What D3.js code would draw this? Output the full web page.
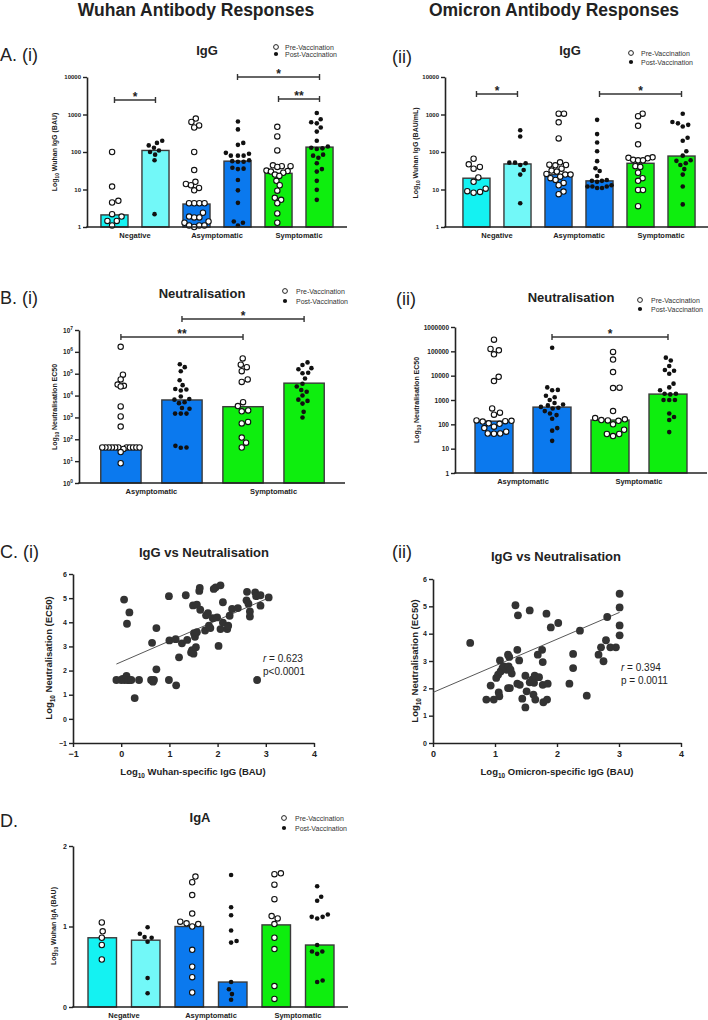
<!DOCTYPE html>
<html><head><meta charset="utf-8">
<script src="https://cdn.jsdelivr.net/npm/d3@7"></script>
<style>body{margin:0;background:#fff}svg{display:block}text{font-family:"Liberation Sans",Arial,sans-serif}</style>
</head><body><svg id="c" width="708" height="1020"></svg>
<script>
// ---------------- DATA ----------------
const groups = ["Negative", "Asymptomatic", "Symptomatic"];
const groupsB = ["Asymptomatic", "Symptomatic"];
const legendLabels = ["Pre-Vaccination", "Post-Vaccination"];
const igGTicks = [1, 10, 100, 1000, 10000];
const neutTicksW = [1, 10, 100, 1000, 10000, 100000, 1000000, 10000000];
const neutTicksO = [1, 10, 100, 1000, 10000, 100000, 1000000];
const igATicks = [0, 1, 2];
const scatterXTicksW = [-1, 0, 1, 2, 3, 4];
const scatterYTicksW = [-1, 0, 1, 2, 3, 4, 5, 6];
const scatterXTicksO = [0, 1, 2, 3, 4];
const scatterYTicksO = [0, 1, 2, 3, 4, 5, 6];

// A(i) Wuhan IgG  (order: neg pre, neg post, asym pre, asym post, sym pre, sym post)
const wuhanIgGBars = [2.1, 110, 4.1, 57, 27, 135];
const wuhanIgGNegPre = [100, 12, 5, 4.5, 2.2, 1.9, 1.45, 1.45, 1.1];
const wuhanIgGNegPost = [200, 175, 150, 130, 110, 100, 85, 60, 2.2];
const wuhanIgGAsymPre = [780, 630, 510, 450, 100, 33, 16, 14, 13, 11, 9.5, 4.3, 4.3, 4.3, 4.3, 2.4, 1.9, 1.8, 1.8, 1.4, 1.3, 1.1, 1.1, 1.1, 1.0];
const wuhanIgGAsymPost = [650, 400, 175, 155, 95, 90, 80, 80, 80, 60, 57, 55, 55, 38, 36, 35, 18, 9.5, 4.4, 1.4, 1.3, 1.1];
const wuhanIgGSymPre = [470, 260, 110, 44, 42, 42, 40, 32, 31, 30, 28, 25, 23, 17, 13, 9.3, 6, 5.3, 4.3, 2.3, 1.3];
const wuhanIgGSymPost = [1100, 750, 620, 580, 450, 350, 200, 140, 130, 125, 120, 85, 80, 70, 50, 35, 30, 17, 9.8, 5.3];

// A(ii) Omicron IgG
const omiIgGBars = [20, 48, 25, 17, 50, 78];
const omiIgGNegPre = [66, 47, 40, 36, 21, 16, 10.5, 9, 8.6, 8.2];
const omiIgGNegPost = [380, 260, 52, 52, 50, 45, 33, 25, 4.3];
const omiIgGAsymPre = [1050, 1050, 620, 230, 53, 46, 45, 44, 36, 32, 30, 26, 25, 25, 22, 20, 18, 15, 13, 8.8, 7.5];
const omiIgGAsymPost = [720, 300, 180, 105, 57, 37, 31, 23, 18, 17, 17, 16, 13, 12, 12, 12, 11, 11];
const omiIgGSymPre = [1050, 900, 500, 160, 72, 70, 68, 62, 60, 60, 42, 40, 28, 20, 17, 9.7, 9.7, 3.6];
const omiIgGSymPost = [1050, 630, 580, 530, 480, 240, 200, 105, 80, 60, 58, 50, 45, 35, 25, 12, 4];

// B(i) Wuhan neutralisation (asym pre, asym post, sym pre, sym post)
const wuhanNeutBars = [40, 6300, 3100, 37000];
const wuhanNeutAsymPre = [1.7e6, 9e4, 5.5e4, 3.2e4, 2.8e4, 2.6e4, 3200, 1100, 380, 42, 42, 42, 42, 42, 42, 42, 42, 42, 42, 42, 36, 26, 8];
const wuhanNeutAsymPost = [2.7e5, 2e5, 1.3e5, 5e4, 3e4, 2e4, 1.9e4, 1.7e4, 9e3, 7e3, 6.5e3, 5e3, 4.5e3, 2.7e3, 2.5e3, 1.5e3, 1.5e3, 1.5e3, 50, 42, 41];
const wuhanNeutSymPre = [5e5, 2.6e5, 2e5, 1.3e5, 5.5e4, 4.2e4, 5e3, 3.3e3, 2.1e3, 1.9e3, 620, 530, 120, 70, 42];
const wuhanNeutSymPost = [3.3e5, 2.5e5, 1.8e5, 1.6e5, 1.1e5, 1.05e5, 6e4, 3.5e4, 2.6e4, 1.8e4, 1.5e4, 1e4, 6.5e3, 5.7e3, 4.3e3, 1.8e3, 1e3];

// B(ii) Omicron neutralisation
const omiNeutBars = [135, 510, 150, 1750];
const omiNeutAsymPre = [3e5, 1.25e5, 1.1e5, 7.5e4, 9e3, 6e3, 450, 300, 250, 145, 140, 135, 130, 110, 105, 80, 70, 50, 42, 42, 41];
const omiNeutAsymPost = [1.4e5, 3.3e3, 2.6e3, 2.5e3, 1.5e3, 1.3e3, 1e3, 750, 650, 600, 520, 480, 450, 350, 280, 240, 170, 70, 55, 21];
const omiNeutSymPre = [9.5e4, 4.6e4, 1.4e4, 3.2e3, 3.1e3, 350, 180, 160, 150, 145, 140, 100, 60, 40, 40, 33];
const omiNeutSymPost = [5.5e4, 4.2e4, 2.5e4, 1.7e4, 1.6e4, 1.2e4, 4.7e3, 3.3e3, 2.5e3, 1.8e3, 1.8e3, 1.7e3, 1e3, 1e3, 1e3, 280, 200, 150, 48];

// C(i) Wuhan IgG vs neutralisation (log10 values)
const corrWuhanX = [-0.10, 0, 0.06, 0.03, 0.07, 0.10, 0.11, 0.12, 0.14, 0.16, 0.17, 0.21, 0.28, 0.37, 0.62, 0.64, 0.66, 0.68, 0.73, 0.73, 0.99, 0.99, 1.0, 1.13, 1.14, 1.20, 1.26, 1.34, 1.37, 1.45, 1.47, 1.49, 1.50, 1.51, 1.53, 1.55, 1.57, 1.57, 1.62, 1.63, 1.64, 1.74, 1.76, 1.80, 1.82, 1.85, 1.90, 1.92, 1.96, 1.99, 2.02, 2.06, 2.06, 2.11, 2.11, 2.20, 2.22, 2.25, 2.30, 2.42, 2.60, 2.61, 2.64, 2.67, 2.67, 2.78, 2.80, 2.82, 2.89, 2.89, 3.06];
const corrWuhanY = [1.61, 1.61, 4.94, 1.65, 1.61, 1.70, 1.78, 3.94, 1.61, 1.61, 4.41, 1.61, 0.86, 1.61, 1.61, 3.15, 1.54, 1.61, 3.76, 2.05, 5.08, 1.61, 3.25, 3.30, 1.39, 2.55, 3.13, 5.12, 3.27, 2.75, 2.85, 4.70, 2.70, 3.55, 3.40, 2.97, 4.73, 3.59, 5.30, 5.42, 4.52, 3.66, 4.29, 4.38, 3.86, 3.76, 4.17, 5.38, 5.45, 4.20, 3.02, 5.53, 3.72, 4.83, 3.99, 3.72, 3.86, 4.27, 4.55, 4.59, 4.91, 5.26, 4.77, 4.45, 4.24, 5.24, 5.08, 1.61, 5.12, 4.69, 5.03];
const corrWuhanFit = [-0.10, 2.27, 3.05, 5.00]; // x0, y0, x1, y1 of regression line
const corrWuhanStats = ["0.623", "p<0.0001"];

// C(ii) Omicron IgG vs neutralisation
const corrOmiX = [0.60, 0.86, 0.93, 0.98, 1.02, 1.05, 1.06, 1.07, 1.08, 1.09, 1.12, 1.14, 1.19, 1.21, 1.21, 1.22, 1.23, 1.24, 1.25, 1.27, 1.33, 1.36, 1.36, 1.37, 1.39, 1.40, 1.44, 1.49, 1.49, 1.51, 1.56, 1.56, 1.60, 1.62, 1.63, 1.64, 1.65, 1.69, 1.71, 1.76, 1.77, 1.77, 1.78, 1.83, 1.84, 1.85, 1.90, 2.02, 2.20, 2.26, 2.26, 2.37, 2.48, 2.67, 2.71, 2.75, 2.79, 2.81, 2.86, 2.95, 3.01, 3.01, 3.01, 3.01];
const corrOmiY = [3.66, 1.59, 2.10, 1.59, 2.38, 2.50, 1.85, 1.71, 3.02, 2.62, 2.74, 2.80, 2.68, 3.23, 2.01, 2.80, 3.15, 2.01, 2.68, 2.54, 5.04, 3.41, 2.17, 4.67, 3.02, 2.13, 1.62, 2.46, 1.30, 1.89, 4.85, 2.22, 2.32, 1.77, 2.20, 2.46, 1.59, 3.23, 2.41, 3.41, 2.96, 2.13, 1.49, 4.73, 1.59, 2.17, 4.23, 4.39, 2.17, 3.26, 2.74, 4.11, 1.73, 3.23, 3.50, 2.99, 3.76, 4.61, 3.50, 3.50, 5.46, 4.96, 4.30, 3.94];
const corrOmiFit = [0, 1.85, 3.01, 4.78];
const corrOmiStats = ["0.394", "p = 0.0011"];

// D Wuhan IgA (log10 values)
const wuhanIgABars = [0.86, 0.83, 1.0, 0.31, 1.02, 0.77];
const wuhanIgANegPre = [1.05, 0.94, 0.86, 0.77, 0.59];
const wuhanIgANegPost = [0.99, 0.91, 0.87, 0.86, 0.81, 0.36, 0.17];
const wuhanIgAAsymPre = [1.62, 1.55, 1.39, 1.16, 1.06, 1.04, 1.03, 1.0, 0.71, 0.50, 0.37, 0.18];
const wuhanIgAAsymPost = [1.64, 1.24, 1.14, 0.95, 0.82, 0.80, 0.31, 0.22, 0.16, 0.09];
const wuhanIgASymPre = [1.66, 1.65, 1.52, 1.34, 1.13, 1.10, 1.03, 0.86, 0.72, 0.26, 0.10];
const wuhanIgASymPost = [1.50, 1.37, 1.32, 1.15, 1.12, 1.12, 1.10, 0.77, 0.69, 0.69, 0.66, 0.33, 0.31];

// significance comparisons: [bar index a, bar index b, label]
const sigA1 = [[0, 1, "*"], [3, 5, "*"], [4, 5, "**"]];
const sigA2 = [[0, 1, "*"], [3, 5, "*"]];
const sigB1 = [[0, 2, "**"], [1, 3, "*"]];
const sigB2 = [[1, 3, "*"]];

// ---------------- STYLE ----------------
const C_NEG = "#14F2F2", C_NEG2 = "#72F8F8", C_ASYM = "#0B79EE", C_SYM = "#0EEE0E";
const INK = "#222";
const FONT = '"Liberation Sans", Arial, sans-serif';
const svg = d3.select("#c");

function txt(x, y, s, o = {}) {
  const t = svg.append("text").attr("x", x).attr("y", y).text(s)
    .attr("font-size", o.size || 10).attr("fill", o.fill || INK)
    .attr("text-anchor", o.anchor || "start");
  if (o.bold) t.attr("font-weight", "bold");
  return t;
}

function ylab(x, y, pre, sub, post, size) {
  const t = svg.append("text").attr("transform", `translate(${x},${y}) rotate(-90)`)
    .attr("text-anchor", "middle").attr("font-size", size).attr("font-weight", "bold").attr("fill", INK);
  t.append("tspan").text(pre);
  t.append("tspan").attr("font-size", size * 0.68).attr("dy", size * 0.3).text(sub);
  t.append("tspan").attr("dy", -size * 0.3).text(post);
}

function xlab(x, y, pre, sub, post, size) {
  const t = svg.append("text").attr("x", x).attr("y", y)
    .attr("text-anchor", "middle").attr("font-size", size).attr("font-weight", "bold").attr("fill", INK);
  t.append("tspan").text(pre);
  t.append("tspan").attr("font-size", size * 0.68).attr("dy", size * 0.3).text(sub);
  t.append("tspan").attr("dy", -size * 0.3).text(post);
}

function legend(x, y1, y2, tx) {
  svg.append("circle").attr("cx", x).attr("cy", y1).attr("r", 2.4).attr("fill", "#fff").attr("stroke", INK).attr("stroke-width", 1);
  svg.append("circle").attr("cx", x).attr("cy", y2).attr("r", 2.1).attr("fill", "#111");
  txt(tx, y1 + 2.5, legendLabels[0], { size: 7, fill: "#333" });
  txt(tx, y2 + 2.5, legendLabels[1], { size: 7, fill: "#333" });
}

function swarm(ys, r, halfW) {
  const d = 2 * r + 0.5;
  const idx = ys.map((_, i) => i).sort((a, b) => ys[b] - ys[a]);
  const placed = [], xs = new Array(ys.length);
  for (const i of idx) {
    const y = ys[i];
    const near = placed.filter(p => Math.abs(p.y - y) < d);
    let best = 0;
    if (near.length) {
      const cands = [0];
      near.forEach(p => { const dx = Math.sqrt(Math.max(0, d * d - (p.y - y) ** 2)); cands.push(p.x + dx, p.x - dx); });
      cands.sort((a, b) => Math.abs(a) - Math.abs(b) || b - a);
      best = cands.find(c => near.every(p => (p.x - c) ** 2 + (p.y - y) ** 2 >= d * d - 0.01));
    }
    xs[i] = best; placed.push({ x: best, y });
  }
  const ext = d3.extent(xs), mid = (ext[0] + ext[1]) / 2;
  const m = d3.max(xs, v => Math.abs(v - mid)) || 1;
  const k = Math.min(1, halfW / m);
  return xs.map(v => (v - mid) * k);
}

function barPanel(cfg) {
  const y = (cfg.log ? d3.scaleLog() : d3.scaleLinear()).domain(cfg.domain).range([cfg.yBot, cfg.yTop]);
  const x = d3.scaleBand().domain(d3.range(cfg.bars.length)).range(cfg.band).padding(cfg.pad);
  const bw = x.bandwidth();
  svg.append("g").selectAll("rect").data(cfg.bars).join("rect")
    .attr("x", (d, i) => x(i)).attr("width", bw)
    .attr("y", d => y(d)).attr("height", d => cfg.yBot - y(d))
    .attr("fill", (d, i) => cfg.colors[i]).attr("stroke", "#3a3a3a").attr("stroke-width", 1.4);
  cfg.points.forEach((vals, i) => {
    const pre = i % 2 === 0;
    const r = pre ? 2.7 : 2.3;
    const ys = vals.map(v => y(v));
    const xs = swarm(ys, r + 0.3, bw / 2 - 1.5);
    const cx = x(i) + bw / 2;
    svg.append("g").selectAll("circle").data(vals).join("circle")
      .attr("cx", (d, j) => cx + xs[j]).attr("cy", (d, j) => ys[j]).attr("r", r)
      .attr("fill", pre ? "#fff" : "#111").attr("stroke", pre ? "#111" : "none").attr("stroke-width", 1.1);
  });
  const ax = svg.append("g").attr("transform", `translate(${cfg.axisX},0)`)
    .call(d3.axisLeft(y).tickValues(cfg.ticks).tickSize(4).tickSizeOuter(0).tickFormat(d3.format("d")));
  ax.select(".domain").attr("stroke", INK).attr("stroke-width", 1.6);
  ax.selectAll(".tick line").attr("stroke", INK).attr("stroke-width", 1.4);
  ax.selectAll(".tick text").attr("font-size", cfg.tickSize).attr("font-weight", "bold").attr("fill", INK)
    .attr("font-family", FONT).attr("x", -6);
  if (cfg.pow) {
    ax.selectAll(".tick text").each(function (d) {
      const t = d3.select(this); t.text("10");
      t.append("tspan").attr("dy", -3).attr("font-size", cfg.tickSize * 0.75).text(Math.round(Math.log10(d)));
    });
  }
  svg.append("line").attr("x1", cfg.axisX - 0.8).attr("x2", cfg.xEnd).attr("y1", cfg.yBot).attr("y2", cfg.yBot)
    .attr("stroke", INK).attr("stroke-width", 1.6);
  cfg.cats.forEach((c, k) => {
    const cxm = (x(2 * k) + x(2 * k + 1) + bw) / 2;
    txt(cxm, cfg.yBot + 11, c, { size: 7.5, bold: true, anchor: "middle" });
  });
  (cfg.sig || []).forEach((s, k) => {
    const by = cfg.sigY[k];
    const x1 = x(s[0]) + bw / 2, x2 = x(s[1]) + bw / 2;
    const g = svg.append("g").attr("stroke", "#333").attr("stroke-width", 1.4);
    g.append("line").attr("x1", x1).attr("x2", x2).attr("y1", by).attr("y2", by);
    g.append("line").attr("x1", x1).attr("x2", x1).attr("y1", by - 3).attr("y2", by + 3);
    g.append("line").attr("x1", x2).attr("x2", x2).attr("y1", by - 3).attr("y2", by + 3);
    txt((x1 + x2) / 2, by + 1, s[2], { size: 12, bold: true, anchor: "middle" });
  });
}

function scatterPanel(cfg) {
  const x = d3.scaleLinear().domain(cfg.xd).range([cfg.x0, cfg.x1]);
  const y = d3.scaleLinear().domain(cfg.yd).range([cfg.y0, cfg.y1]);
  const ax = svg.append("g").attr("transform", `translate(0,${cfg.y0})`)
    .call(d3.axisBottom(x).tickValues(cfg.xt).tickSize(4).tickSizeOuter(0).tickFormat(d3.format("d")));
  const ay = svg.append("g").attr("transform", `translate(${cfg.x0},0)`)
    .call(d3.axisLeft(y).tickValues(cfg.yt).tickSize(4).tickSizeOuter(0).tickFormat(d3.format("d")));
  [ax, ay].forEach(a => {
    a.select(".domain").attr("stroke", INK).attr("stroke-width", 1.6);
    a.selectAll(".tick line").attr("stroke", INK).attr("stroke-width", 1.4);
    a.selectAll(".tick text").attr("font-weight", "bold").attr("fill", INK).attr("font-family", FONT);
  });
  ax.selectAll(".tick text").attr("font-size", 9).attr("y", 8);
  ay.selectAll(".tick text").attr("font-size", 7).attr("x", -6);
  const f = cfg.fit;
  svg.append("line").attr("x1", x(f[0])).attr("y1", y(f[1])).attr("x2", x(f[2])).attr("y2", y(f[3]))
    .attr("stroke", "#444").attr("stroke-width", 0.9);
  svg.append("g").selectAll("circle").data(cfg.xs).join("circle")
    .attr("cx", d => x(d)).attr("cy", (d, i) => y(cfg.ys[i])).attr("r", 3.9).attr("fill", "#333");
  const t = svg.append("text").attr("x", cfg.sx).attr("y", cfg.sy).attr("font-size", 10).attr("fill", INK);
  t.append("tspan").attr("font-style", "italic").text("r");
  t.append("tspan").text(" = " + cfg.stats[0]);
  txt(cfg.sx, cfg.sy + 12.5, cfg.stats[1], { size: 10 });
}

// ---------------- HEADERS ----------------
txt(196, 16, "Wuhan Antibody Responses", { size: 17.5, bold: true, anchor: "middle" });
txt(554, 16, "Omicron Antibody Responses", { size: 17.5, bold: true, anchor: "middle" });

// ---------------- A(i) ----------------
txt(0, 61, "A. (i)", { size: 18 });
txt(207, 55, "IgG", { size: 13, bold: true, anchor: "middle" });
legend(276, 47, 54, 285);
barPanel({
  log: true, domain: [1, 10000], yBot: 227, yTop: 77, axisX: 87, xEnd: 347, band: [87, 347], pad: 0.34,
  bars: wuhanIgGBars, points: [wuhanIgGNegPre, wuhanIgGNegPost, wuhanIgGAsymPre, wuhanIgGAsymPost, wuhanIgGSymPre, wuhanIgGSymPost],
  colors: [C_NEG, C_NEG2, C_ASYM, C_ASYM, C_SYM, C_SYM], ticks: igGTicks, tickSize: 6,
  cats: groups, sig: sigA1, sigY: [100, 77, 99]
});
ylab(57, 152, "Log", "10", " Wuhan IgG (BAU)", 7);

// ---------------- A(ii) ----------------
txt(392, 63, "(ii)", { size: 18 });
txt(570, 55, "IgG", { size: 13, bold: true, anchor: "middle" });
legend(631, 53, 62, 641);
barPanel({
  log: true, domain: [1, 10000], yBot: 227, yTop: 77, axisX: 445, xEnd: 708, band: [449, 709], pad: 0.34,
  bars: omiIgGBars, points: [omiIgGNegPre, omiIgGNegPost, omiIgGAsymPre, omiIgGAsymPost, omiIgGSymPre, omiIgGSymPost],
  colors: [C_NEG, C_NEG2, C_ASYM, C_ASYM, C_SYM, C_SYM], ticks: igGTicks, tickSize: 6,
  cats: groups, sig: sigA2, sigY: [94, 94]
});
ylab(418, 153, "Log", "10", " Wuhan IgG  (BAU/mL)", 7);

// ---------------- B(i) ----------------
txt(0, 304, "B. (i)", { size: 18 });
txt(202, 298, "Neutralisation", { size: 13, bold: true, anchor: "middle" });
legend(285, 291, 301, 296);
barPanel({
  log: true, domain: [1, 1e7], yBot: 483, yTop: 330, axisX: 79, xEnd: 345, band: [80, 345], pad: 0.34,
  bars: wuhanNeutBars, points: [wuhanNeutAsymPre, wuhanNeutAsymPost, wuhanNeutSymPre, wuhanNeutSymPost],
  colors: [C_ASYM, C_ASYM, C_SYM, C_SYM], ticks: neutTicksW, tickSize: 6.5, pow: true,
  cats: groupsB, sig: sigB1, sigY: [337, 319]
});
ylab(57, 407, "Log", "10", " Neutralisation EC50", 7);

// ---------------- B(ii) ----------------
txt(396, 305, "(ii)", { size: 18 });
txt(571, 302, "Neutralisation", { size: 13, bold: true, anchor: "middle" });
legend(640, 300, 309, 651);
barPanel({
  log: true, domain: [1, 1e6], yBot: 473, yTop: 327, axisX: 455, xEnd: 707, band: [455, 707], pad: 0.345,
  bars: omiNeutBars, points: [omiNeutAsymPre, omiNeutAsymPost, omiNeutSymPre, omiNeutSymPost],
  colors: [C_ASYM, C_ASYM, C_SYM, C_SYM], ticks: neutTicksO, tickSize: 6.5,
  cats: groupsB, sig: sigB2, sigY: [337]
});
ylab(419, 400, "Log", "10", " Neutralisation EC50", 7);

// ---------------- C(i) ----------------
txt(0, 558, "C. (i)", { size: 18 });
txt(204, 557, "IgG vs Neutralisation", { size: 13, bold: true, anchor: "middle" });
scatterPanel({
  xd: [-1, 4], yd: [-1, 6], x0: 73, x1: 314, y0: 743, y1: 574, xt: scatterXTicksW, yt: scatterYTicksW,
  xs: corrWuhanX, ys: corrWuhanY, fit: corrWuhanFit, stats: corrWuhanStats, sx: 263, sy: 662
});
xlab(193, 775, "Log", "10", " Wuhan-specific IgG (BAU)", 9.5);
ylab(52, 658, "Log", "10", " Neutralisation (EC50)", 9.5);

// ---------------- C(ii) ----------------
txt(392, 558, "(ii)", { size: 18 });
txt(556, 561, "IgG vs Neutralisation", { size: 13, bold: true, anchor: "middle" });
scatterPanel({
  xd: [0, 4], yd: [0, 6], x0: 433, x1: 681, y0: 743, y1: 579, xt: scatterXTicksO, yt: scatterYTicksO,
  xs: corrOmiX, ys: corrOmiY, fit: corrOmiFit, stats: corrOmiStats, sx: 621, sy: 671
});
xlab(557, 775, "Log", "10", " Omicron-specific IgG (BAU)", 9.5);
ylab(418, 661, "Log", "10", " Neutralisation (EC50)", 9.5);

// ---------------- D ----------------
txt(0, 827, "D.", { size: 18 });
txt(200, 822, "IgA", { size: 13, bold: true, anchor: "middle" });
legend(284, 818, 828, 295);
barPanel({
  log: false, domain: [0, 2], yBot: 1007, yTop: 846, axisX: 73, xEnd: 348, band: [73, 349], pad: 0.345,
  bars: wuhanIgABars, points: [wuhanIgANegPre, wuhanIgANegPost, wuhanIgAAsymPre, wuhanIgAAsymPost, wuhanIgASymPre, wuhanIgASymPost],
  colors: [C_NEG, C_NEG2, C_ASYM, C_ASYM, C_SYM, C_SYM], ticks: igATicks, tickSize: 7,
  cats: groups
});
ylab(56, 926, "Log", "10", " Wuhan IgA (BAU)", 7);
</script></body></html>
